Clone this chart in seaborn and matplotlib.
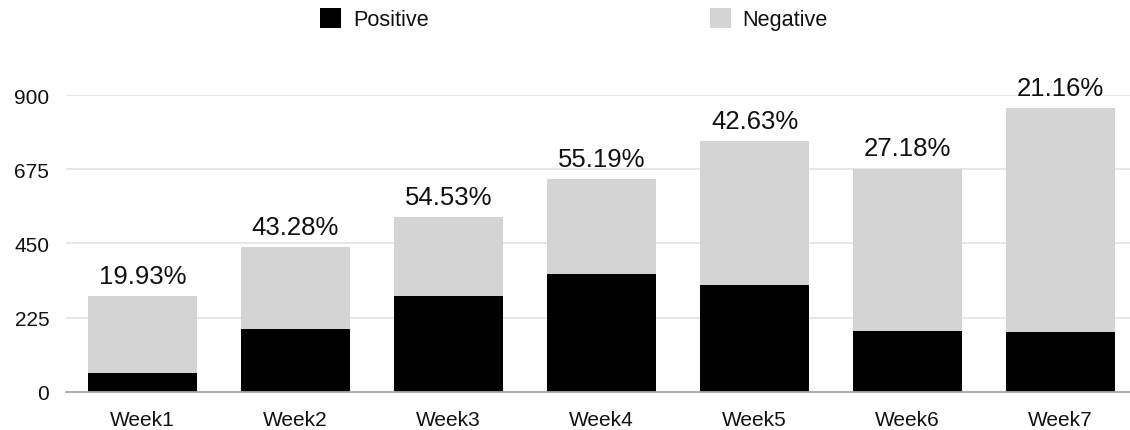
import matplotlib
matplotlib.use("Agg")
import matplotlib.pyplot as plt
from matplotlib.patches import Patch
import pandas as pd
import seaborn as sns

weeks = ["Week1", "Week2", "Week3", "Week4", "Week5", "Week6", "Week7"]
positive = [58, 190, 289, 356, 324, 184, 182]
negative = [233, 249, 241, 289, 436, 493, 678]
y_ticks = [0, 225, 450, 675, 900]

POS_COLOR = "#000000"
NEG_COLOR = "#d4d4d4"

totals = [p + n for p, n in zip(positive, negative)]
df = pd.DataFrame({"week": weeks, "positive": positive, "total": totals})

sns.set_theme(style="white")
plt.rcParams["font.family"] = ["Liberation Sans", "DejaVu Sans"]

fig = plt.figure(figsize=(11.3, 4.31), dpi=100)
ax = fig.add_axes([66 / 1130, (431 - 392.7) / 431, (1130 - 66) / 1130, (392.7 - 96) / 431])

# stacked bars: full total in grey, positive part in black on top of it
sns.barplot(data=df, x="week", y="total", color=NEG_COLOR, width=0.71,
            saturation=1, ax=ax, zorder=2, edgecolor="none")
sns.barplot(data=df, x="week", y="positive", color=POS_COLOR, width=0.71,
            saturation=1, ax=ax, zorder=3, edgecolor="none")

# share of positives written above each bar
for i, (p, t) in enumerate(zip(positive, totals)):
    ax.annotate(f"{p / t * 100:.2f}%", xy=(i, t), xytext=(0, 9.5),
                textcoords="offset points", ha="center", va="baseline",
                fontsize=18.5, color="#111111", annotation_clip=False)

ax.set_ylim(0, 900)
ax.set_xlim(-0.5, (1130 - 142.5) / 153)
ax.set_yticks(y_ticks)
ax.set_yticklabels([str(v) for v in y_ticks])
ax.set_xlabel("")
ax.set_ylabel("")
ax.yaxis.grid(True, color="#e3e3e3", linewidth=1.2, zorder=0)
ax.set_axisbelow(True)
for side in ["top", "right", "left"]:
    ax.spines[side].set_visible(False)
ax.spines["bottom"].set_color("#a8a8a8")
ax.spines["bottom"].set_linewidth(1.3)
ax.spines["bottom"].set_zorder(4)
ax.tick_params(axis="y", length=0, pad=12, labelsize=15, labelcolor="#111111")
ax.tick_params(axis="x", length=0, pad=13, labelsize=15, labelcolor="#111111")

handles = [Patch(facecolor=POS_COLOR, edgecolor="none", label="Positive"),
           Patch(facecolor=NEG_COLOR, edgecolor="none", label="Negative")]
fig.legend(handles=handles, loc="center", bbox_to_anchor=(0.508, 0.953), ncol=2,
           frameon=False, fontsize=15.6, handlelength=0.97, handleheight=1.0,
           handletextpad=0.55, columnspacing=12.95, labelcolor="#111111",
           borderpad=0, borderaxespad=0)

fig.savefig("out.png", dpi=100, facecolor="white")
